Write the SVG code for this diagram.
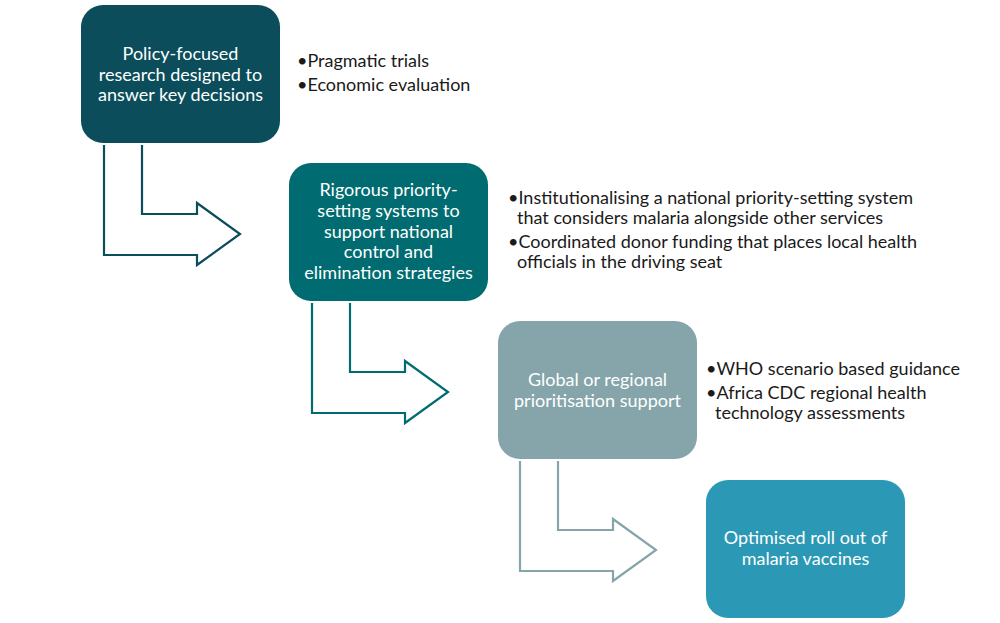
<svg xmlns="http://www.w3.org/2000/svg" width="1000" height="623" viewBox="0 0 1000 623">
<style>
.box{stroke:none}
.bt{font-family:Lato,"Noto Sans",sans-serif;font-size:18px;fill:#ffffff;text-anchor:middle}
.bl{font-family:Lato,"Noto Sans",sans-serif;font-size:18px;fill:#1a1a1a}
.arr{fill:none;stroke-width:2.2;stroke-linejoin:miter}
</style>
<rect width="1000" height="623" fill="#ffffff"/>
<g id="connectors">
<path class="arr" stroke="#0b4d5b" d="M104,145 L104,255 L197,255 L197,265 L240,234 L197,203 L197,214 L142,214 L142,145"/>
<path class="arr" stroke="#006b70" d="M312,303 L312,413 L405,413 L405,423 L448,392 L405,361 L405,372 L350,372 L350,303"/>
<path class="arr" stroke="#85a5ab" d="M520,461 L520,571 L613,571 L613,581 L656,550 L613,519 L613,530 L558,530 L558,461"/>
</g>
<g id="node1">
<rect class="box" x="81" y="5" width="199" height="138" rx="22" fill="#0b4d5b"/>
<text class="bt" x="180.5" y="60">Policy-focused</text>
<text class="bt" x="180.5" y="80.5">research designed to</text>
<text class="bt" x="180.5" y="101">answer key decisions</text>
</g>
<g id="bullets1">
<text class="bl" x="297" y="67">•Pragmatic trials</text>
<text class="bl" x="297" y="91">•Economic evaluation</text>
</g>
<g id="node2">
<rect class="box" x="289" y="163" width="199" height="138" rx="22" fill="#006b70"/>
<text class="bt" x="388.5" y="196">Rigorous priority-</text>
<text class="bt" x="388.5" y="217">setting systems to</text>
<text class="bt" x="388.5" y="238">support national</text>
<text class="bt" x="388.5" y="258">control and</text>
<text class="bt" x="388.5" y="279">elimination strategies</text>
</g>
<g id="bullets2">
<text class="bl" x="508" y="204">•Institutionalising a national priority-setting system</text>
<text class="bl" x="517" y="224">that considers malaria alongside other services</text>
<text class="bl" x="508" y="248">•Coordinated donor funding that places local health</text>
<text class="bl" x="517" y="268">officials in the driving seat</text>
</g>
<g id="node3">
<rect class="box" x="498" y="321" width="199" height="138" rx="22" fill="#85a5ab"/>
<text class="bt" x="597.5" y="386" fill="#eef3f4">Global or regional</text>
<text class="bt" x="597.5" y="407" fill="#eef3f4">prioritisation support</text>
</g>
<g id="bullets3">
<text class="bl" x="706" y="375">•WHO scenario based guidance</text>
<text class="bl" x="706" y="399">•Africa CDC regional health</text>
<text class="bl" x="715" y="419">technology assessments</text>
</g>
<g id="node4">
<rect class="box" x="706" y="480" width="199" height="138" rx="22" fill="#2b99b5"/>
<text class="bt" x="805.5" y="544">Optimised roll out of</text>
<text class="bt" x="805.5" y="565">malaria vaccines</text>
</g>
</svg>
